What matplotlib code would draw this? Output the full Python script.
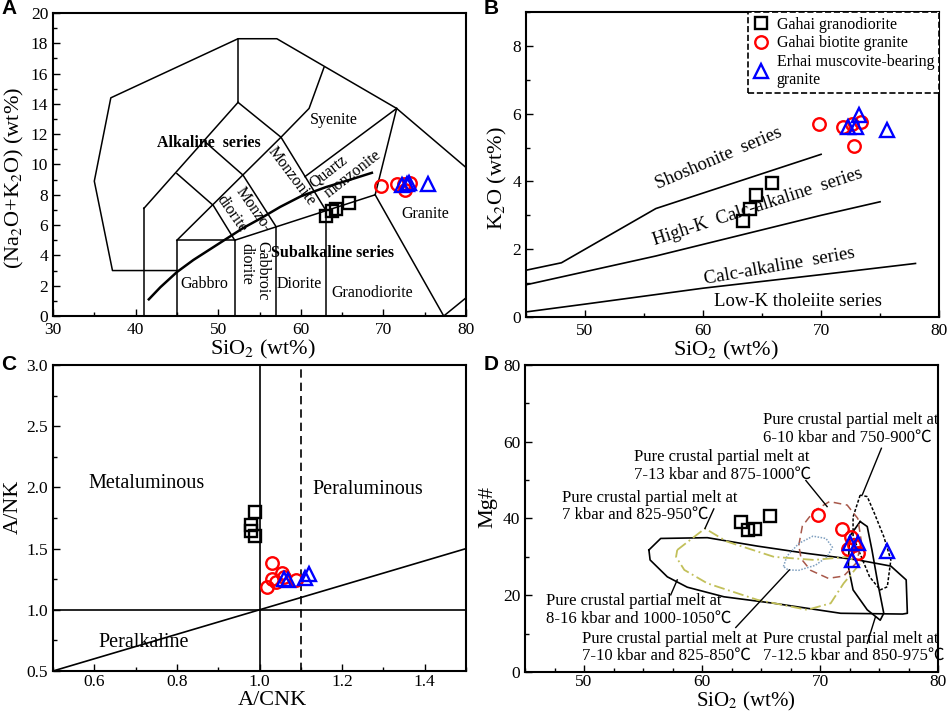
import numpy as np
import matplotlib
matplotlib.use("Agg")
import matplotlib.pyplot as plt
from matplotlib.ticker import MultipleLocator

plt.rcParams['font.family'] = ['Liberation Serif', 'DejaVu Serif']
plt.rcParams['mathtext.fontset'] = 'stix'

# ---------------- data ----------------
# A: TAS diagram
tas_sq_x = [63.1, 63.8, 64.3, 65.8]
tas_sq_y = [6.6, 6.9, 7.05, 7.45]
tas_ci_x = [69.7, 71.6, 72.5, 72.6, 73.2]
tas_ci_y = [8.58, 8.7, 8.7, 8.3, 8.8]
tas_tr_x = [72.2, 72.9, 73.1, 75.4]
tas_tr_y = [8.65, 8.7, 8.75, 8.7]

# field boundaries (SiO2, total alkali)
tas_lines = [
    [(45, 3), (37.2, 3), (35, 8.9), (37, 14.4), (52.4, 18.3), (57.1, 18.3), (71.6, 13.7), (80, 9.8)],
    [(41, 0), (41, 7.1)],
    [(41, 7.1), (52.4, 14.1)],
    [(52.4, 14.1), (52.4, 18.3)],
    [(52.4, 14.1), (57.6, 11.8), (63, 7)],
    [(57.6, 11.8), (61, 13.7), (62.8, 16.4)],
    [(45, 9.4), (49.4, 7.3), (52, 5)],
    [(48.4, 11.5), (53, 9.3), (57, 5.9)],
    [(45, 5), (57.6, 11.8)],
    [(45, 0), (45, 5), (52, 5)],
    [(52, 0), (52, 5)],
    [(57, 0), (57, 5.9)],
    [(63, 0), (63, 7)],
    [(52, 5), (69, 8)],
    [(69, 8), (71.6, 13.7)],
    [(69, 8), (77.3, 0), (80, 1.2)],
    [(60.5, 9.2), (71.6, 13.7)],
]
# alkaline / subalkaline divide
ib_x = [41.6, 43, 45, 47, 49, 51, 53, 55, 57.5, 60, 63, 66, 68.6]
ib_y = [1.1, 1.9, 2.9, 3.7, 4.4, 5.1, 5.8, 6.4, 7.2, 7.9, 8.5, 9.0, 9.45]

tas_labels = [
    ("Syenite", 64.0, 12.95, 0, 'normal'),
    ("Alkaline  series", 48.9, 11.4, 0, 'bold'),
    ("Monzonite", 58.9, 9.2, -53, 'normal'),
    ("Quartz", 63.3, 9.55, 38, 'normal'),
    ("monzonite", 66.35, 9.35, 38, 'normal'),
    ("Monzo-", 54.25, 7.0, -55, 'normal'),
    ("diorite", 51.6, 6.75, -55, 'normal'),
    ("Gabbroic", 55.3, 3.0, -90, 'normal'),
    ("diorite", 53.45, 3.45, -90, 'normal'),
    ("Gabbro", 48.3, 2.1, 0, 'normal'),
    ("Diorite", 59.8, 2.1, 0, 'normal'),
    ("Granodiorite", 68.65, 1.54, 0, 'normal'),
    ("Granite", 75.1, 6.7, 0, 'normal'),
    ("Subalkaline series", 63.8, 4.14, 0, 'bold'),
]

# B: K2O vs SiO2
k_sq_x = [63.4, 64.0, 64.5, 65.8]
k_sq_y = [2.84, 3.18, 3.59, 3.96]
k_ci_x = [69.85, 71.9, 72.6, 72.75, 73.4]
k_ci_y = [5.69, 5.61, 5.7, 5.04, 5.76]
k_tr_x = [72.3, 73.0, 73.2, 75.6]
k_tr_y = [5.6, 5.6, 5.96, 5.52]

sho_x = [45, 48, 56, 70]
sho_y = [1.38, 1.6, 3.2, 4.8]
hk_x = [45, 56, 70, 75]
hk_y = [0.95, 1.8, 3.0, 3.4]
ca_x = [45, 50, 60, 70, 78]
ca_y = [0.15, 0.38, 0.85, 1.25, 1.58]

k_labels = [
    ("Shoshonite  series", 61.3, 4.68, 23),
    ("High-K  Calc-alkaline  series", 64.6, 3.25, 18),
    ("Calc-alkaline  series", 66.5, 1.49, 10),
    ("Low-K tholeiite series", 68.0, 0.45, 0),
]

# C: A/NK vs A/CNK
c_sq_x = [0.99, 0.98, 0.98, 0.99]
c_sq_y = [1.80, 1.69, 1.64, 1.60]
c_ci_x = [1.03, 1.017, 1.03, 1.04, 1.054, 1.06, 1.088]
c_ci_y = [1.385, 1.19, 1.25, 1.23, 1.30, 1.27, 1.24]
c_tr_x = [1.06, 1.07, 1.11, 1.12]
c_tr_y = [1.25, 1.24, 1.26, 1.29]

# D: Mg# vs SiO2
d_sq_x = [63.3, 63.9, 64.5, 65.8]
d_sq_y = [39.2, 37.0, 37.2, 40.6]
d_ci_x = [69.8, 71.9, 72.6, 72.4, 72.9, 73.2]
d_ci_y = [40.9, 37.3, 35.3, 32.0, 33.0, 31.0]
d_tr_x = [72.5, 73.2, 72.75, 75.7]
d_tr_y = [33.5, 33.5, 29.2, 31.6]

big_x = [55.5, 56.5, 60.45, 64.7, 68.9, 73.2, 76.0, 77.3, 77.4, 77.0, 71.75, 66.1, 61.86, 58.75, 57.06, 55.6]
big_y = [31.8, 34.8, 35.0, 32.8, 30.9, 29.2, 27.6, 24.0, 15.3, 15.1, 15.3, 17.9, 19.6, 22.1, 24.8, 29.2]
small_x = [73.4, 72.5, 72.4, 72.8, 74.0, 75.1, 75.4, 74.9, 74.4, 74.0]
small_y = [39.2, 35.3, 27.4, 21.4, 16.2, 13.5, 15.3, 23.1, 31.8, 37.9]
dot_x = [73.4, 72.8, 72.8, 73.5, 74.2, 75.1, 75.7, 76.0, 75.4, 74.6, 74.0]
dot_y = [46.1, 40.4, 35.3, 30.0, 24.8, 21.4, 22.2, 29.2, 35.3, 41.4, 45.7]
brown_x = [68.2, 68.5, 69.5, 70.8, 72.3, 73.2, 73.5, 73.1, 72.0, 70.7, 69.2, 68.4]
brown_y = [33, 38, 42, 44.4, 43.5, 40, 34, 28.5, 25, 24.4, 26.5, 29.5]
blue_x = [66.9, 67.2, 68.2, 69.4, 70.5, 71.05, 70.6, 69.6, 68.2, 67.3]
blue_y = [27.5, 30.2, 33.5, 35.4, 34.8, 32.5, 30.0, 27.8, 26.5, 26.6]
yel_x = [57.9, 60.25, 62.1, 66.1, 69.5, 72.3, 73.4, 72.0, 70.9, 68.9, 64.7, 60.45, 58.5, 57.8]
yel_y = [31.8, 37.4, 34.0, 30.0, 29.2, 30.0, 28.3, 23.1, 17.9, 16.2, 18.8, 23.1, 26.6, 30.0]

d_labels = [
    ("Pure crustal partial melt at\n6-10 kbar and 750-900\u2103", 65.2, 63.3),
    ("Pure crustal partial melt at\n7-13 kbar and 875-1000\u2103", 54.24, 53.7),
    ("Pure crustal partial melt at\n7 kbar and 825-950\u2103", 48.16, 43.1),
    ("Pure crustal partial melt at\n8-16 kbar and 1000-1050\u2103", 46.8, 16.15),
    ("Pure crustal partial melt at\n7-10 kbar and 825-850\u2103", 49.86, 6.4),
    ("Pure crustal partial melt at\n7-12.5 kbar and 850-975\u2103", 65.2, 6.4),
]
d_leaders = [
    ((75.2, 58.3), (73.6, 46.3)),
    ((68.8, 49.9), (70.6, 43.1)),
    ((61.0, 42.5), (60.25, 37.4)),
    ((57.35, 20.1), (57.9, 24.0)),
    ((62.86, 11.6), (67.4, 26.6)),
    ((74.0, 7.5), (74.7, 14.4)),
]

# ---------------- figure ----------------
fig = plt.figure(figsize=(9.48, 7.13), dpi=100)
axA = fig.add_axes([0.0559, 0.5568, 0.4357, 0.425])
axB = fig.add_axes([0.5549, 0.5554, 0.4357, 0.4278])
axC = fig.add_axes([0.0559, 0.0589, 0.4357, 0.4292])
axD = fig.add_axes([0.5538, 0.0575, 0.4357, 0.4306])

sq = dict(ls='none', marker='s', ms=8, mfc='none', mec='k', mew=1.7)
ci = dict(ls='none', marker='o', ms=9, mfc='none', mec='#ff0000', mew=1.7)
tr = dict(ls='none', marker='^', ms=10.5, mfc='none', mec='#0000ff', mew=1.7)

for ax in (axA, axB, axC, axD):
    ax.tick_params(direction='in', which='both', labelsize=12.5, top=False, right=False)
    ax.tick_params(which='major', length=5, width=1)
    ax.tick_params(which='minor', length=3, width=1)
    ax.tick_params(axis='y', which='both', pad=3.5)
    for s in ax.spines.values():
        s.set_linewidth(1.5)
for ax in (axA, axB):
    ax.tick_params(axis='x', which='both', pad=4.5)
axC.tick_params(axis='x', which='both', pad=2.5)
axD.tick_params(axis='x', which='both', pad=1.5)

# A
for seg in tas_lines:
    xs, ys = zip(*seg)
    axA.plot(xs, ys, color='k', lw=1.1)
axA.plot(ib_x, ib_y, color='k', lw=1.8)
for txt, x, y, rot, w in tas_labels:
    axA.text(x, y, txt, fontsize=11.5, fontweight=w, rotation=rot,
             ha='center', va='center', rotation_mode='anchor')
axA.plot(tas_sq_x, tas_sq_y, **sq)
axA.plot(tas_ci_x, tas_ci_y, **ci)
axA.plot(tas_tr_x, tas_tr_y, **tr)
axA.set_xlim(30, 80)
axA.set_ylim(0, 20)
axA.xaxis.set_major_locator(MultipleLocator(10))
axA.xaxis.set_minor_locator(MultipleLocator(5))
axA.yaxis.set_major_locator(MultipleLocator(2))
axA.yaxis.set_minor_locator(MultipleLocator(1))
axA.set_xlabel("SiO$_2$ (wt%)", fontsize=16)
axA.set_ylabel("(Na$_2$O+K$_2$O) (wt%)", fontsize=16)
axA.xaxis.set_label_coords(0.508, -0.073)
axA.yaxis.set_label_coords(-0.066, 0.455)

# B
axB.plot(sho_x, sho_y, color='k', lw=1.2)
axB.plot(hk_x, hk_y, color='k', lw=1.2)
axB.plot(ca_x, ca_y, color='k', lw=1.2)
for txt, x, y, rot in k_labels:
    axB.text(x, y, txt, fontsize=13.5, rotation=rot, ha='center', va='center',
             rotation_mode='anchor')
axB.plot(k_sq_x, k_sq_y, label='Gahai granodiorite', **sq)
axB.plot(k_ci_x, k_ci_y, label='Gahai biotite granite', **ci)
axB.plot(k_tr_x, k_tr_y, label='Erhai muscovite-bearing\ngranite', **tr)
leg = axB.legend(loc='upper right', bbox_to_anchor=(1, 1), borderaxespad=0,
                 fontsize=11.5, fancybox=False, edgecolor='k', framealpha=1,
                 handlelength=1.0, handletextpad=0.5, labelspacing=0.15,
                 borderpad=0.3)
leg.get_frame().set_linestyle('--')
leg.get_frame().set_linewidth(1.2)
axB.set_xlim(45, 80)
axB.set_ylim(0, 9)
axB.xaxis.set_major_locator(MultipleLocator(10))
axB.xaxis.set_minor_locator(MultipleLocator(5))
axB.yaxis.set_major_locator(MultipleLocator(2))
axB.yaxis.set_minor_locator(MultipleLocator(1))
axB.set_xlabel("SiO$_2$ (wt%)", fontsize=16)
axB.set_ylabel("K$_2$O (wt%)", fontsize=16)
axB.xaxis.set_label_coords(0.484, -0.073)
axB.yaxis.set_label_coords(-0.041, 0.456)

# C
axC.axvline(1.0, color='k', lw=1.2)
axC.axhline(1.0, color='k', lw=1.2)
axC.axvline(1.1, color='k', lw=1.2, ls=(0, (5, 3)))
axC.plot([0.5, 1.5], [0.5, 1.5], color='k', lw=1.2)
axC.text(0.727, 2.03, "Metaluminous", fontsize=14.5, ha='center', va='center')
axC.text(1.263, 1.985, "Peraluminous", fontsize=14.5, ha='center', va='center')
axC.text(0.72, 0.73, "Peralkaline", fontsize=14.5, ha='center', va='center')
axC.plot(c_sq_x, c_sq_y, **sq)
axC.plot(c_ci_x, c_ci_y, **ci)
axC.plot(c_tr_x, c_tr_y, **tr)
axC.set_xlim(0.5, 1.5)
axC.set_ylim(0.5, 3.0)
axC.xaxis.set_major_locator(MultipleLocator(0.2))
axC.xaxis.set_minor_locator(MultipleLocator(0.1))
axC.yaxis.set_major_locator(MultipleLocator(0.5))
axC.yaxis.set_minor_locator(MultipleLocator(0.25))
axC.set_xticks([0.6, 0.8, 1.0, 1.2, 1.4])
axC.set_xticklabels(["0.6", "0.8", "1.0", "1.2", "1.4"])
axC.set_yticklabels([f"{v:.1f}" for v in axC.get_yticks()])
axC.set_xlabel("A/CNK", fontsize=16)
axC.set_ylabel("A/NK", fontsize=16)
axC.xaxis.set_label_coords(0.531, -0.066)
axC.yaxis.set_label_coords(-0.073, 0.538)

# D
def closed(x, y):
    return list(x) + [x[0]], list(y) + [y[0]]

axD.plot(*closed(big_x, big_y), color='k', lw=1.2)
axD.plot(*closed(small_x, small_y), color='k', lw=1.2)
axD.plot(*closed(dot_x, dot_y), color='k', lw=1.1, ls=(0, (2, 1.2)))
axD.plot(*closed(brown_x, brown_y), color='#a8584a', lw=1.1, ls=(0, (5, 3)))
axD.plot(*closed(blue_x, blue_y), color='#7f9fbf', lw=1.1, ls=(0, (1, 1)))
axD.plot(*closed(yel_x, yel_y), color='#c2c05a', lw=1.3, ls=(0, (6, 2, 1, 2)))
for (x0, y0), (x1, y1) in d_leaders:
    axD.plot([x0, x1], [y0, y1], color='k', lw=1.0)
for txt, x, y in d_labels:
    axD.text(x, y, txt, fontsize=12, ha='left', va='center', linespacing=1.1,
             family=['Liberation Serif', 'Noto Sans CJK SC', 'DejaVu Sans'])
axD.plot(d_sq_x, d_sq_y, **sq)
axD.plot(d_ci_x, d_ci_y, **ci)
axD.plot(d_tr_x, d_tr_y, **tr)
axD.set_xlim(45, 80)
axD.set_ylim(0, 80)
axD.xaxis.set_major_locator(MultipleLocator(10))
axD.xaxis.set_minor_locator(MultipleLocator(2.5))
axD.yaxis.set_major_locator(MultipleLocator(20))
axD.yaxis.set_minor_locator(MultipleLocator(10))
axD.set_xlabel("SiO$_2$ (wt%)", fontsize=15)
axD.set_ylabel("Mg#", fontsize=16)
axD.xaxis.set_label_coords(0.534, -0.060)
axD.yaxis.set_label_coords(-0.068, 0.536)

for lab, x, y in [("A", 9, 9), ("B", 491, 9), ("C", 9, 364), ("D", 491, 364)]:
    fig.text(x / 948, 1 - y / 713, lab, fontsize=15, fontweight='bold',
             family='Liberation Sans', ha='center', va='center')

fig.savefig("out.png", dpi=100)
